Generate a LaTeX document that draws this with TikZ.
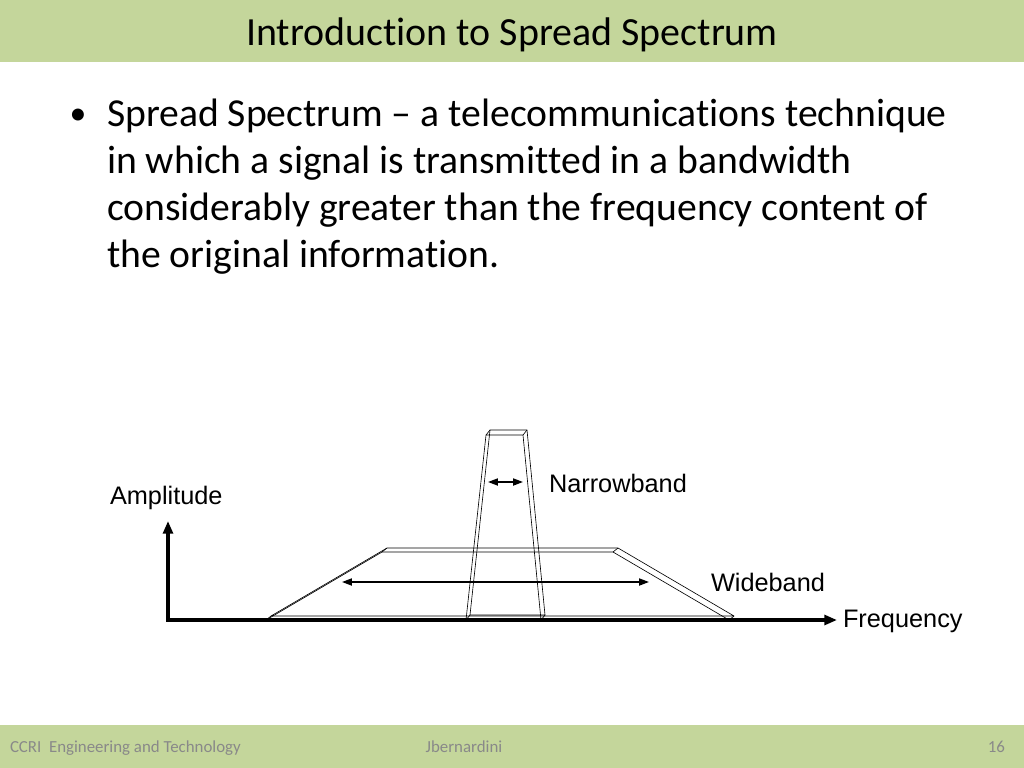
\documentclass[tikz,border=0pt]{standalone}
\usepackage{fontspec}
\setmainfont{Carlito}[Ligatures=NoCommon]
\newfontfamily\arialfont{Liberation Sans}
\usetikzlibrary{arrows.meta}
\definecolor{bandgreen}{RGB}{196,214,155}
\definecolor{footgray}{RGB}{137,137,137}
\tikzset{
  txt/.style={inner sep=0pt, outer sep=0pt},
  lbl/.style={txt, font=\arialfont\fontsize{18}{21.6}\selectfont},
  foot/.style={txt, text=footgray, font=\fontsize{12}{14.4}\selectfont},
  wire/.style={draw=black, line width=0.45pt, line join=round},
  axis/.style={line width=2.2pt, line join=miter, {Triangle[length=9pt,width=7pt]}-{Triangle[length=9pt,width=7pt]}},
  span/.style={line width=1.1pt, {Triangle[length=7pt,width=5pt]}-{Triangle[length=7pt,width=5pt]}}
}
\begin{document}
\begin{tikzpicture}[x=0.025cm, y=-0.025cm]
    \useasboundingbox (0,0) rectangle (1024,768);
    \fill[bandgreen] (0,0) rectangle (1024,62);
    \fill[bandgreen] (0,725) rectangle (1024,768);
    \node[txt, anchor=base, font=\fontsize{28.4}{34}\selectfont] (title) at (512,46)
      {Introduction to Spread Spectrum};
    \node[txt, anchor=base, font=\fontsize{24}{28.8}\selectfont] (bullet) at (78,125) {•};
    \node[txt, anchor=base west, align=left, font=\fontsize{28.2}{33.4}\selectfont] (body) at (107,267)
      {Spread Spectrum – a telecommunications technique\\
       in which a signal is transmitted in a bandwidth\\
       considerably greater than the frequency content of\\
       the original information.};
    \draw[wire]
      (266,620) -- (382,552) -- (613,552) -- (729,620);
    \draw[wire]
      (271,616) -- (387,548) -- (618,548) -- (734,616) -- cycle;
    \draw[wire] (266,620) -- (271,616);
    \draw[wire] (382,552) -- (387,548);
    \draw[wire] (613,552) -- (618,548);
    \draw[wire] (729,620) -- (734,616);
    \draw[wire]
      (466,620) -- (486,435) -- (523,435) -- (541,620);
    \draw[wire]
      (470,615) -- (490,430) -- (527,430) -- (545,615) -- cycle;
    \draw[wire] (466,620) -- (470,615);
    \draw[wire] (486,435) -- (490,430);
    \draw[wire] (523,435) -- (527,430);
    \draw[wire] (541,620) -- (545,615);
    \coordinate (origin) at (168,620);
    \coordinate (ytip) at (168,521);
    \coordinate (xtip) at (837,620);
    \draw[axis] (ytip) -- (origin) -- (xtip);
    \coordinate (nbl) at (488,482);
    \coordinate (nbr) at (523,482);
    \draw[span] (nbl) -- (nbr);
    \coordinate (wbl) at (342,582);
    \coordinate (wbr) at (649,582);
    \draw[span] (wbl) -- (wbr);
    \node[lbl, anchor=base west] (amp) at (110,504) {Amplitude};
    \node[lbl, anchor=base west] (narrow) at (549,492) {Narrowband};
    \node[lbl, anchor=base west] (wide) at (711,591) {Wideband};
    \node[lbl, anchor=base west] (freq) at (843,627) {Frequency};
    \node[foot, anchor=base west] (org) at (10,752) {CCRI\ \ Engineering and Technology};
    \node[foot, anchor=base] (author) at (464,752) {Jbernardini};
    \node[foot, anchor=base east] (page) at (1005,752) {16};
  \end{tikzpicture}
\end{document}
